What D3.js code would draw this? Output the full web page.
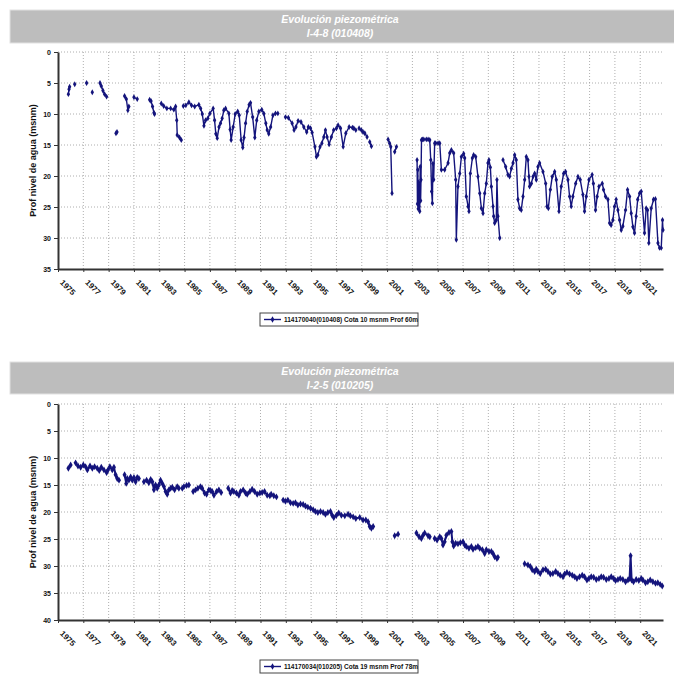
<!DOCTYPE html>
<html><head><meta charset="utf-8">
<script src="https://cdn.jsdelivr.net/npm/d3@7/dist/d3.min.js"></script>
<style>body{margin:0;background:#fff}svg{display:block}</style>
</head><body>
<svg id="c" width="674" height="675"></svg>
<script>
// ---------- DATA ----------
const yearTicks = [1975,1977,1979,1981,1983,1985,1987,1989,1991,1993,1995,1997,1999,2001,2003,2005,2007,2009,2011,2013,2015,2017,2019,2021];
const titleLine1 = "Evolución piezométrica";
const topTitle2 = "I-4-8 (010408)";
const botTitle2 = "I-2-5 (010205)";
const yAxisTitle = "Prof nivel de agua (msnm)";
const topLegend = "114170040(010408) Cota 10 msnm Prof 60m";
const botLegend = "114170034(010205) Cota 19 msnm Prof 78m";
const topYTicks = [0,5,10,15,20,25,30,35];
const botYTicks = [0,5,10,15,20,25,30,35,40];

// I-4-8 series (null = gap)
const topYears = [1975.82,1975.87,1975.92,1976.1,1976.32,1976.8,1977.26,1977.5,1977.71,1978.0,1978.32,1978.42,1978.55,1978.68,1978.84,1979.2,1979.58,1979.66,1980.0,1980.26,1980.4,1980.52,1980.6,1980.8,1981.0,1981.26,1981.7,1982.24,1982.35,1982.47,1982.58,1982.63,1982.9,1983.16,1983.35,1983.6,1983.9,1984.15,1984.29,1984.38,1984.42,1984.6,1984.74,1984.82,1984.9,1985.1,1985.34,1985.55,1985.8,1986.13,1986.27,1986.4,1986.53,1986.66,1986.84,1987.0,1987.26,1987.37,1987.47,1987.58,1987.72,1987.84,1987.97,1988.1,1988.24,1988.5,1988.6,1988.68,1988.84,1989.0,1989.2,1989.32,1989.47,1989.6,1989.7,1989.82,1989.95,1990.1,1990.21,1990.38,1990.55,1990.7,1990.87,1991.1,1991.26,1991.42,1991.53,1991.65,1991.8,1991.98,1992.18,1992.37,1992.7,1992.97,1993.2,1993.5,1993.65,1993.8,1993.97,1994.2,1994.42,1994.65,1994.78,1994.95,1995.08,1995.3,1995.42,1995.53,1995.7,1995.85,1996.0,1996.13,1996.26,1996.42,1996.6,1996.78,1997.0,1997.13,1997.32,1997.53,1997.74,1998.0,1998.26,1998.37,1998.53,1998.65,1998.79,1998.97,1999.1,1999.17,1999.24,1999.42,1999.52,1999.63,1999.76,2000.4,2001.08,2001.2,2001.29,2001.39,2001.5,2001.6,2001.74,2002.5,2003.37,2003.4,2003.43,2003.46,2003.49,2003.52,2003.55,2003.58,2003.62,2003.65,2003.68,2003.72,2003.79,2003.9,2004.1,2004.24,2004.37,2004.45,2004.52,2004.58,2004.62,2004.68,2004.76,2004.84,2005.03,2005.16,2005.29,2005.55,2005.82,2005.95,2006.08,2006.26,2006.42,2006.47,2006.6,2006.74,2006.87,2007.05,2007.13,2007.26,2007.4,2007.47,2007.58,2007.74,2007.84,2008.0,2008.18,2008.32,2008.45,2008.58,2008.71,2008.84,2008.97,2009.05,2009.16,2009.24,2009.37,2009.42,2009.5,2009.63,2009.68,2009.76,2009.9,2010.05,2010.16,2010.37,2010.55,2010.68,2010.82,2010.95,2011.08,2011.21,2011.34,2011.47,2011.6,2011.74,2011.87,2012.0,2012.13,2012.21,2012.26,2012.4,2012.53,2012.66,2012.79,2012.92,2013.05,2013.32,2013.53,2013.63,2013.74,2013.9,2014.05,2014.24,2014.37,2014.58,2014.76,2014.95,2015.1,2015.29,2015.42,2015.55,2015.68,2015.9,2016.08,2016.26,2016.47,2016.6,2016.74,2016.95,2017.2,2017.3,2017.47,2017.6,2017.74,2018.0,2018.1,2018.26,2018.45,2018.58,2018.7,2018.84,2018.97,2019.1,2019.24,2019.37,2019.5,2019.63,2019.84,2020.0,2020.16,2020.29,2020.42,2020.55,2020.68,2020.8,2020.95,2021.08,2021.34,2021.47,2021.58,2021.68,2021.87,2022.05,2022.2,2022.4,2022.53,2022.66,2022.76,2022.8];
const topDepth = [6.8,6.0,5.6,null,5.2,null,5.0,null,6.5,null,5.0,5.5,6.2,6.8,7.2,null,13.1,12.9,null,7.1,7.6,9.4,8.8,null,7.3,7.6,null,7.7,7.9,8.8,9.8,10.0,null,8.3,8.7,9.1,9.1,9.3,8.8,11.0,13.4,13.8,14.2,null,8.7,8.6,8.1,8.6,8.8,8.5,9.1,10.0,11.9,11.0,10.7,9.9,9.1,11.0,13.2,13.9,12.1,11.5,10.7,9.4,9.1,9.9,12.5,14.2,12.1,10.0,9.6,10.2,14.2,15.4,13.8,11.5,9.6,8.5,8.2,10.5,13.8,11.0,9.6,9.3,9.9,11.5,12.6,13.2,12.1,10.2,9.9,9.9,null,10.5,10.6,11.5,12.6,12.1,11.1,11.3,12.1,12.9,12.1,12.3,13.0,15.3,16.9,16.6,15.3,14.7,13.7,12.6,13.7,14.9,13.7,12.6,12.3,11.8,12.3,15.3,13.1,12.1,12.2,12.3,12.6,null,12.3,12.6,12.9,null,13.1,13.7,null,14.5,15.2,null,14.1,14.7,15.3,22.8,null,16.1,15.3,null,17.4,24.5,19.0,25.3,21.0,24.9,22.0,25.7,18.5,24.0,20.6,14.2,14.1,14.1,14.1,14.1,14.2,17.4,22.5,24.4,18.0,20.6,14.7,14.7,14.7,14.7,19.0,19.0,17.9,16.3,15.8,16.3,20.6,30.3,21.7,19.6,16.9,16.4,17.1,23.3,24.9,25.7,19.6,17.1,16.6,16.9,20.1,22.8,25.2,26.0,22.8,21.2,17.9,17.4,18.6,21.7,24.9,26.5,27.6,27.1,20.6,26.5,30.0,null,17.4,18.5,19.8,20.1,18.8,17.9,16.6,17.4,23.8,25.2,25.5,23.3,20.6,16.9,17.4,20.1,21.7,21.2,20.1,19.6,20.6,18.5,17.9,19.3,21.2,24.9,25.2,22.2,20.1,19.3,20.6,25.7,21.7,19.6,19.3,20.6,23.3,24.9,23.3,21.2,20.1,20.6,23.0,25.7,23.3,20.6,19.8,21.2,25.5,23.3,21.7,21.2,22.2,23.3,23.8,27.6,27.9,27.1,24.9,23.8,25.5,27.1,28.7,28.1,25.5,22.2,23.3,26.0,28.2,29.2,26.5,23.8,22.8,22.5,29.2,25.2,25.5,30.8,25.2,23.8,23.7,30.8,31.6,31.6,27.1,28.7];

// I-2-5 series (null = gap)
const botYears = [1975.82,1976.0,1976.2,1976.39,1976.58,1976.79,1977.0,1977.18,1977.32,1977.53,1977.71,1977.89,1978.1,1978.26,1978.42,1978.63,1978.84,1978.95,1979.1,1979.29,1979.42,1979.55,1979.68,1979.82,1980.05,1980.26,1980.39,1980.47,1980.6,1980.74,1980.87,1981.0,1981.13,1981.26,1981.39,1981.6,1981.79,1982.0,1982.18,1982.32,1982.45,1982.58,1982.71,1982.84,1982.97,1983.1,1983.24,1983.37,1983.5,1983.63,1983.76,1983.9,1984.03,1984.21,1984.42,1984.55,1984.7,1984.82,1984.95,1985.16,1985.34,1985.5,1985.68,1985.87,1986.05,1986.26,1986.39,1986.58,1986.74,1986.92,1987.05,1987.18,1987.32,1987.53,1987.71,1987.89,1988.2,1988.45,1988.63,1988.76,1988.89,1989.1,1989.29,1989.42,1989.63,1989.82,1989.95,1990.16,1990.34,1990.53,1990.74,1990.95,1991.13,1991.32,1991.53,1991.74,1991.84,1992.05,1992.26,1992.5,1992.79,1992.97,1993.16,1993.37,1993.58,1993.76,1993.95,1994.16,1994.37,1994.55,1994.74,1994.95,1995.16,1995.34,1995.53,1995.74,1995.95,1996.13,1996.32,1996.53,1996.66,1996.79,1997.0,1997.18,1997.39,1997.66,1997.92,1998.1,1998.32,1998.53,1998.84,1999.1,1999.32,1999.5,1999.63,1999.76,1999.9,2000.7,2001.6,2001.87,2002.6,2003.32,2003.53,2003.71,2003.84,2003.97,2004.24,2004.37,2004.6,2004.76,2004.95,2005.16,2005.29,2005.42,2005.55,2005.68,2005.89,2006.08,2006.16,2006.26,2006.42,2006.6,2006.79,2007.0,2007.13,2007.26,2007.47,2007.66,2007.79,2008.0,2008.18,2008.32,2008.53,2008.71,2008.84,2009.05,2009.24,2009.37,2009.5,2009.68,2009.76,2010.8,2011.87,2012.13,2012.32,2012.47,2012.66,2012.79,2012.92,2013.1,2013.32,2013.53,2013.71,2013.9,2014.1,2014.32,2014.5,2014.68,2014.9,2015.03,2015.21,2015.42,2015.63,2015.82,2016.0,2016.21,2016.42,2016.6,2016.79,2016.95,2017.13,2017.32,2017.53,2017.74,2017.92,2018.1,2018.32,2018.53,2018.71,2018.9,2019.05,2019.24,2019.42,2019.63,2019.84,2020.03,2020.16,2020.24,2020.32,2020.47,2020.68,2020.89,2021.08,2021.21,2021.42,2021.6,2021.79,2022.0,2022.21,2022.39,2022.58,2022.74];
const botDepth = [11.9,11.3,null,10.9,11.5,11.7,11.3,11.6,12.2,11.5,11.9,11.6,11.9,12.3,11.7,12.2,12.7,12.2,11.6,12.2,11.7,13.1,13.8,14.1,null,13.1,14.7,13.8,14.1,13.5,14.1,13.6,14.4,13.6,13.8,null,14.4,14.1,14.6,14.0,14.4,15.9,15.0,15.6,15.0,14.1,14.7,15.3,16.2,16.7,15.9,15.6,15.4,15.9,15.3,15.6,null,15.6,15.3,15.1,15.0,null,16.2,15.9,15.6,15.3,15.6,16.5,16.7,15.9,16.0,16.2,16.9,16.2,15.9,16.4,null,15.6,16.5,16.0,16.2,16.5,16.9,16.2,15.9,16.5,16.7,16.2,15.8,16.2,16.7,16.5,16.4,16.2,16.9,17.0,16.7,17.0,17.2,null,17.8,18.0,17.8,18.3,18.4,18.3,18.7,18.5,18.6,18.9,19.1,19.3,19.6,19.9,20.1,19.9,20.1,20.4,20.1,19.9,20.6,21.0,20.6,20.2,20.6,20.7,20.4,20.7,20.9,21.2,21.0,21.5,21.5,21.8,22.7,23.0,22.7,null,24.4,24.1,null,23.9,24.6,24.9,24.3,23.9,24.4,24.6,null,24.9,25.2,24.6,24.9,26.1,25.5,24.3,23.8,23.6,25.5,26.3,25.8,25.9,25.7,25.5,26.1,26.4,26.7,26.4,26.9,26.6,26.4,26.7,27.0,27.7,27.0,27.3,27.3,27.7,28.3,28.6,28.4,null,29.6,29.8,30.1,30.7,31.0,30.6,31.0,31.4,30.7,30.6,31.0,31.5,31.4,31.0,31.4,31.7,32.0,31.5,31.2,31.5,31.7,32.0,32.3,32.0,31.7,32.0,32.6,32.3,32.0,32.1,32.5,32.3,32.0,32.1,32.5,32.3,32.0,32.3,32.7,32.5,32.3,32.5,32.9,32.6,32.3,28.1,32.6,32.9,32.5,32.7,32.3,32.6,33.1,32.9,32.6,32.9,33.2,33.1,33.4,33.7];

// ---------- DRAW ----------
const svg = d3.select("#c");
const navy = "#14147c";
const FONT = "'Liberation Sans', Arial, sans-serif";

function drawChart(o) {
  const g = svg.append("g");
  const x = d3.scaleLinear().domain([1975, 2022.8]).range([58, 663]);
  const y = d3.scaleLinear().domain([0, o.yMax]).range([o.top, o.bottom]);

  // title band
  g.append("rect").attr("x", 10).attr("y", o.bandTop).attr("width", 680).attr("height", o.bandH)
    .attr("fill", "#bdbdbd").attr("stroke", "#e2e2e2").attr("stroke-width", 1);
  g.append("text").attr("x", 340).attr("y", o.bandTop + 13).attr("text-anchor", "middle")
    .attr("fill", "#fff").style("font", "italic bold 10.5px " + FONT).text(o.title1);
  g.append("text").attr("x", 340).attr("y", o.bandTop + 27).attr("text-anchor", "middle")
    .attr("fill", "#fff").style("font", "italic bold 10.5px " + FONT).text(o.title2);

  // gridlines
  g.append("g").selectAll("line").data(o.yTicks.filter(v => v !== o.yMax)).join("line")
    .attr("x1", 58).attr("x2", 663).attr("y1", d => y(d)).attr("y2", d => y(d))
    .attr("stroke", "#9a9a9a").attr("stroke-width", 0.8).attr("stroke-dasharray", "1,2");
  g.append("g").selectAll("line").data(yearTicks.slice(1)).join("line")
    .attr("x1", d => x(d)).attr("x2", d => x(d)).attr("y1", o.top).attr("y2", o.bottom)
    .attr("stroke", "#9a9a9a").attr("stroke-width", 0.8).attr("stroke-dasharray", "1,2");

  // y axis
  const ya = g.append("g").attr("transform", "translate(58,0)")
    .call(d3.axisLeft(y).tickValues(o.yTicks).tickSize(4).tickSizeOuter(0).tickPadding(3));
  ya.select(".domain").attr("stroke", "#333").attr("stroke-width", 2);
  ya.selectAll(".tick line").attr("stroke", "#333");
  ya.selectAll("text").style("font", "bold 7px " + FONT).attr("fill", "#111");

  // x axis
  const xa = g.append("g").attr("transform", `translate(0,${o.bottom})`)
    .call(d3.axisBottom(x).tickValues(yearTicks).tickFormat(d => String(d)).tickSize(3).tickSizeOuter(0));
  xa.select(".domain").attr("stroke", "#333").attr("stroke-width", 2);
  xa.selectAll(".tick line").attr("stroke", "#333");
  xa.selectAll("text").attr("x", 0).attr("y", 0).attr("dy", 0)
    .attr("text-anchor", "start").attr("transform", "translate(1,14) rotate(45)")
    .style("font", "bold 8px " + FONT).attr("fill", "#111");

  // axis title
  const cy = (o.top + o.bottom) / 2;
  g.append("text").attr("transform", `translate(36,${cy}) rotate(-90)`).attr("text-anchor", "middle")
    .style("font", "bold 9px " + FONT).attr("fill", "#111").text(yAxisTitle);

  // series
  const pts = o.years.map((yr, i) => ({ t: yr, v: o.depth[i] }));
  const line = d3.line().defined(d => d.v !== null).x(d => x(d.t)).y(d => y(d.v));
  g.append("path").datum(pts).attr("d", line).attr("fill", "none")
    .attr("stroke", navy).attr("stroke-width", o.lw).attr("stroke-linejoin", "round");
  const sym = d3.symbol().type(d3.symbolDiamond).size(o.ms);
  g.append("g").selectAll("path").data(pts.filter(d => d.v !== null)).join("path")
    .attr("transform", d => `translate(${x(d.t)},${y(d.v)})`).attr("d", sym).attr("fill", navy);

  // legend
  const lg = g.append("g").attr("transform", `translate(260,${o.legTop})`);
  lg.append("rect").attr("x", 0).attr("y", 0).attr("width", 158).attr("height", 13)
    .attr("fill", "#fff").attr("stroke", "#444").attr("stroke-width", 1);
  lg.append("line").attr("x1", 4).attr("x2", 21).attr("y1", 6.5).attr("y2", 6.5)
    .attr("stroke", navy).attr("stroke-width", 1.4);
  lg.append("path").attr("transform", "translate(12.5,6.5)").attr("d", d3.symbol().type(d3.symbolDiamond).size(12)).attr("fill", navy);
  lg.append("text").attr("x", 24).attr("y", 9).style("font", "bold 6.5px " + FONT).attr("fill", "#111").text(o.legend);
}

drawChart({ title1: titleLine1, title2: topTitle2, bandTop: 10, bandH: 33, top: 52, bottom: 269,
  yMax: 35, yTicks: topYTicks, years: topYears, depth: topDepth, legend: topLegend, legTop: 313, lw: 1.4, ms: 10 });
drawChart({ title1: titleLine1, title2: botTitle2, bandTop: 362, bandH: 32, top: 404, bottom: 620,
  yMax: 40, yTicks: botYTicks, years: botYears, depth: botDepth, legend: botLegend, legTop: 660, lw: 2, ms: 14 });
</script>
</body></html>
